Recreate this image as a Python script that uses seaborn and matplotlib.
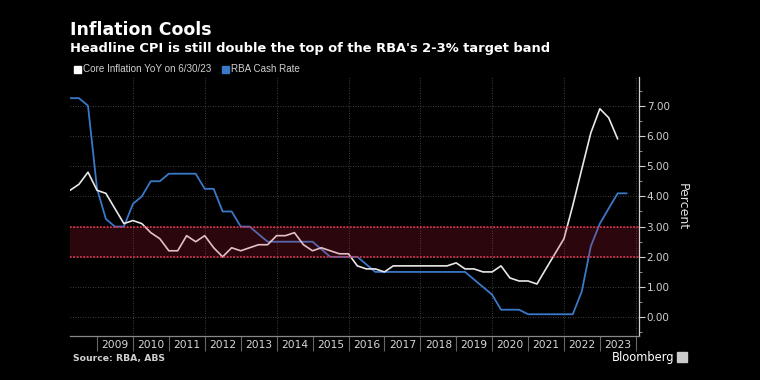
import pandas as pd
import matplotlib.pyplot as plt
from matplotlib.patches import Rectangle
from matplotlib.ticker import MultipleLocator
import seaborn as sns

# quarterly values, first quarter ends 2008-03-31
core_inflation = [4.2, 4.4, 4.8, 4.2, 4.1, 3.6, 3.1, 3.2, 3.1, 2.8, 2.6, 2.2, 2.2, 2.7, 2.5, 2.7,
                  2.3, 2.0, 2.3, 2.2, 2.3, 2.4, 2.4, 2.7, 2.7, 2.8, 2.4, 2.2, 2.3, 2.2, 2.1, 2.1,
                  1.7, 1.6, 1.6, 1.5, 1.7, 1.7, 1.7, 1.7, 1.7, 1.7, 1.7, 1.8, 1.6, 1.6, 1.5, 1.5,
                  1.7, 1.3, 1.2, 1.2, 1.1, 1.6, 2.1, 2.6, 3.7, 4.9, 6.1, 6.9, 6.6, 5.9]
cash_rate = [7.25, 7.25, 7.0, 4.25, 3.25, 3.0, 3.0, 3.75, 4.0, 4.5, 4.5, 4.75, 4.75, 4.75, 4.75, 4.25,
             4.25, 3.5, 3.5, 3.0, 3.0, 2.75, 2.5, 2.5, 2.5, 2.5, 2.5, 2.5, 2.25, 2.0, 2.0, 2.0,
             2.0, 1.75, 1.5, 1.5, 1.5, 1.5, 1.5, 1.5, 1.5, 1.5, 1.5, 1.5, 1.5, 1.25, 1.0, 0.75,
             0.25, 0.25, 0.25, 0.1, 0.1, 0.1, 0.1, 0.1, 0.1, 0.85, 2.35, 3.1, 3.6, 4.1, 4.1]
target_band = [2.0, 3.0]
year_labels = list(range(2009, 2024))

core_df = pd.DataFrame({'date': pd.date_range('2008-03-31', periods=len(core_inflation), freq='QE'),
                        'value': core_inflation})
cash_df = pd.DataFrame({'date': pd.date_range('2008-03-31', periods=len(cash_rate), freq='QE'),
                        'value': cash_rate})

sns.set_style('dark', {'axes.facecolor': 'black', 'figure.facecolor': 'black'})
plt.rcParams['font.family'] = ['DejaVu Sans']

fig = plt.figure(figsize=(7.6, 3.8), dpi=100)
ax = fig.add_axes([70 / 760, 1 - 336 / 380, 569 / 760, 259 / 380])
ax.set_facecolor('black')

sns.lineplot(data=cash_df, x='date', y='value', color='#3a78c8', linewidth=1.3, ax=ax, zorder=2)
sns.lineplot(data=core_df, x='date', y='value', color='#e8e8e8', linewidth=1.2, ax=ax, zorder=2)

# target band drawn over the lines
ax.axhspan(target_band[0], target_band[1], color='#d8203f', alpha=0.2, linewidth=0, zorder=3)
for lvl in target_band:
    ax.axhline(lvl, color='#e8334f', linestyle=(0, (1, 1)), linewidth=1.2, zorder=4)

ax.set_xlim(pd.Timestamp('2008-03-31'), pd.Timestamp('2024-02-02'))
ax.set_ylim(-0.62, 7.95)

# grid
ax.yaxis.set_major_locator(MultipleLocator(1))
ax.yaxis.set_minor_locator(MultipleLocator(0.5))
ax.grid(False)
for v in range(0, 8):
    ax.axhline(v, color='#555555', linestyle=(0, (1, 2)), linewidth=0.6, zorder=1)
for yr in range(2010, 2025, 2):
    ax.axvline(pd.Timestamp(f'{yr}-01-01'), color='#555555', linestyle=(0, (1, 2)), linewidth=0.6, zorder=1)

# x axis: year labels centred, separators at year starts
ax.set_xticks([pd.Timestamp(f'{y}-07-02') for y in year_labels])
ax.set_xticklabels([str(y) for y in year_labels])
ax.set_xticks([pd.Timestamp(f'{y}-01-01') for y in range(2009, 2025)], minor=True)
ax.tick_params(axis='x', which='major', bottom=True, length=0, pad=3, labelsize=7.7, colors='#d8d8d8')
ax.tick_params(axis='x', which='minor', bottom=True, length=11, width=0.8, color='#666666', direction='out')

ax.yaxis.tick_right()
ax.yaxis.set_major_formatter(plt.FormatStrFormatter('%.2f'))
ax.tick_params(axis='y', which='major', length=4, width=0.8, pad=1.5, labelsize=7.5,
               colors='#d0d0d0', left=False, right=True)
ax.tick_params(axis='y', which='minor', length=2.5, width=0.6, color='#aaaaaa', left=False, right=True)
ax.set_xlabel('')
ax.set_ylabel('')

for side in ['top', 'left']:
    ax.spines[side].set_visible(False)
ax.spines['right'].set_color('#d0d0d0')
ax.spines['right'].set_linewidth(0.9)
ax.spines['bottom'].set_color('#888888')
ax.spines['bottom'].set_linewidth(0.9)

# titles
fig.text(70 / 760, 1 - 35 / 380, 'Inflation Cools', color='white', fontsize=12.5,
         fontweight='bold', va='baseline', ha='left')
fig.text(70 / 760, 1 - 52 / 380, "Headline CPI is still double the top of the RBA's 2-3% target band",
         color='white', fontsize=9.4, fontweight='bold', va='baseline', ha='left')

# legend
fig.patches.append(Rectangle((74 / 760, 1 - 73 / 380), 7 / 760, 7 / 380, color='white',
                             transform=fig.transFigure, figure=fig))
fig.text(83 / 760, 1 - 69 / 380, 'Core Inflation YoY on 6/30/23', color='#d0d0d0', fontsize=7.1,
         family='Liberation Sans', va='center', ha='left')
fig.patches.append(Rectangle((222 / 760, 1 - 73 / 380), 7 / 760, 7 / 380, color='#3a78c8',
                             transform=fig.transFigure, figure=fig))
fig.text(231 / 760, 1 - 69 / 380, 'RBA Cash Rate', color='#d0d0d0', fontsize=7.1,
         family='Liberation Sans', va='center', ha='left')

fig.text(682 / 760, 1 - 207 / 380, 'Percent', color='#e0e0e0', fontsize=9, rotation=270,
         ha='center', va='center')

fig.text(73 / 760, 1 - 358 / 380, 'Source: RBA, ABS', color='#d0d0d0', fontsize=6.7,
         fontweight='bold', va='center', ha='left')
fig.text(612 / 760, 1 - 357 / 380, 'Bloomberg', color='white', fontsize=8.3,
         va='center', ha='left')
fig.patches.append(Rectangle((677 / 760, 1 - 362 / 380), 10 / 760, 10 / 380, color='#cccccc',
                             transform=fig.transFigure, figure=fig))

fig.savefig('out.png', dpi=100, facecolor='black')
